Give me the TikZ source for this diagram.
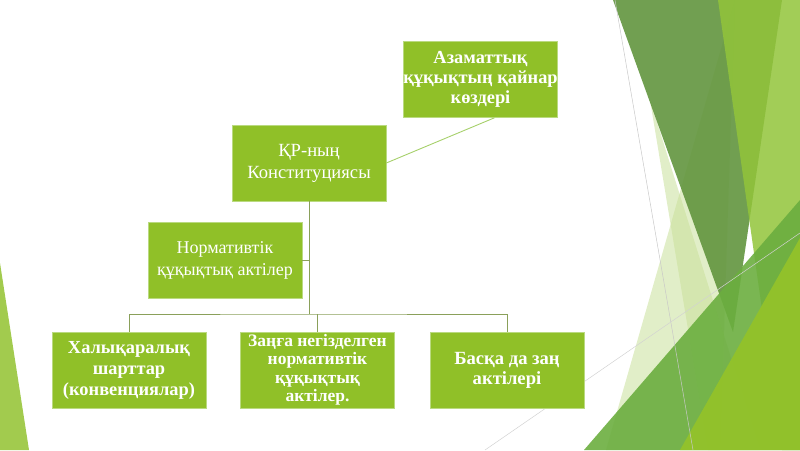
\documentclass[tikz,border=0pt]{standalone}
\usepackage{fontspec}
\setmainfont{Liberation Serif}
\usepackage{xcolor}
\usepackage{tikz}

\begin{document}
\begin{tikzpicture}[x=1pt,y=1pt,yscale=-1,
  box/.style={draw={rgb,255:red,186;green,218;blue,128},line width=0.6pt,
    fill={rgb,255:red,144;green,192;blue,40},text=white,align=center,
    inner sep=0pt,minimum width=154,minimum height=76},
  link/.style={draw={rgb,255:red,138;green,160;blue,90},line width=0.9pt},
  facet/.style={draw=none,fill opacity=#1},
  facet/.default=0.9]
\useasboundingbox (0,0) rectangle (800,450);

%Shape: Triangle [pale, left]
\fill [facet=0.55,fill={rgb,255:red,201;green,224;blue,154}] (735,0) -- (606,450) -- (720,450) -- cycle ;
%Shape: Triangle [pale, right]
\fill [facet=0.55,fill={rgb,255:red,201;green,224;blue,154}] (650,100) -- (708,450) -- (760,450) -- cycle ;
%Shape: Triangle [dark]
\fill [facet=0.9,fill={rgb,255:red,98;green,149;blue,62}] (613,0) -- (782,0) -- (733,332) -- cycle ;
%Shape: Triangle [strip]
\fill [facet=0.85,fill={rgb,255:red,146;green,196;blue,58}] (718,0) -- (800,0) -- (800,450) -- (782,450) -- cycle ;
%Shape: Triangle [medium]
\fill [facet=0.9,fill={rgb,255:red,107;green,174;blue,63}] (584,450) -- (800,200) -- (800,450) -- cycle ;
%Shape: Triangle [bright]
\fill [facet=0.95,fill={rgb,255:red,147;green,194;blue,42}] (680,450) -- (800,238) -- (800,450) -- cycle ;
%Shape: Triangle [left corner]
\fill [fill={rgb,255:red,162;green,203;blue,78}] (0,263) -- (29,450) -- (0,450) -- cycle ;
%Straight Lines [thin grey]
\draw [draw={rgb,255:red,200;green,200;blue,200},line width=0.5pt] (615,0) -- (693,450) ;
\draw [draw={rgb,255:red,210;green,210;blue,210},line width=0.5pt] (485,450) -- (800,233) ;

% Text Node
\node [box,font=\fontsize{18.4}{20}\selectfont\bfseries] (azam) at (480.5,79.5) {Азаматтық\\құқықтың қайнар\\көздері};
% Text Node
\node [box,font=\fontsize{18.6}{22}\selectfont] (konst) at (309,163) {ҚР-ның\\Конституциясы};
% Text Node
\node [box,font=\fontsize{18}{22}\selectfont] (norm) at (225,260) {Нормативтік\\құқықтық актілер};
% Text Node
\node [box,font=\fontsize{18.4}{21}\selectfont\bfseries] (halyq) at (129,370) {Халықаралық\\шарттар\\(конвенциялар)};
% Text Node
\node [box,font=\fontsize{17.5}{18.5}\selectfont\bfseries] (zanga) at (317.5,370) {Заңға негізделген\\нормативтік\\құқықтық\\актілер.};
% Text Node
\node [box,font=\fontsize{18.6}{20}\selectfont\bfseries] (basqa) at (507,370) {Басқа да заң\\актілері};

\coordinate (bus) at (309,314);

%Straight Lines
\draw [draw={rgb,255:red,166;green,208;blue,106},line width=0.9pt] (azam.-70) -- (konst.east) ;
%Straight Lines
\draw [link] (konst.south) -- (bus) ;
\draw [link] (norm.east) -- (konst.south |- norm.east) ;
\draw [link] (halyq.north) |- (bus) -| (basqa.north) ;
\draw [link] (zanga.north) -- (zanga.north |- bus) ;

\end{tikzpicture}
\end{document}
